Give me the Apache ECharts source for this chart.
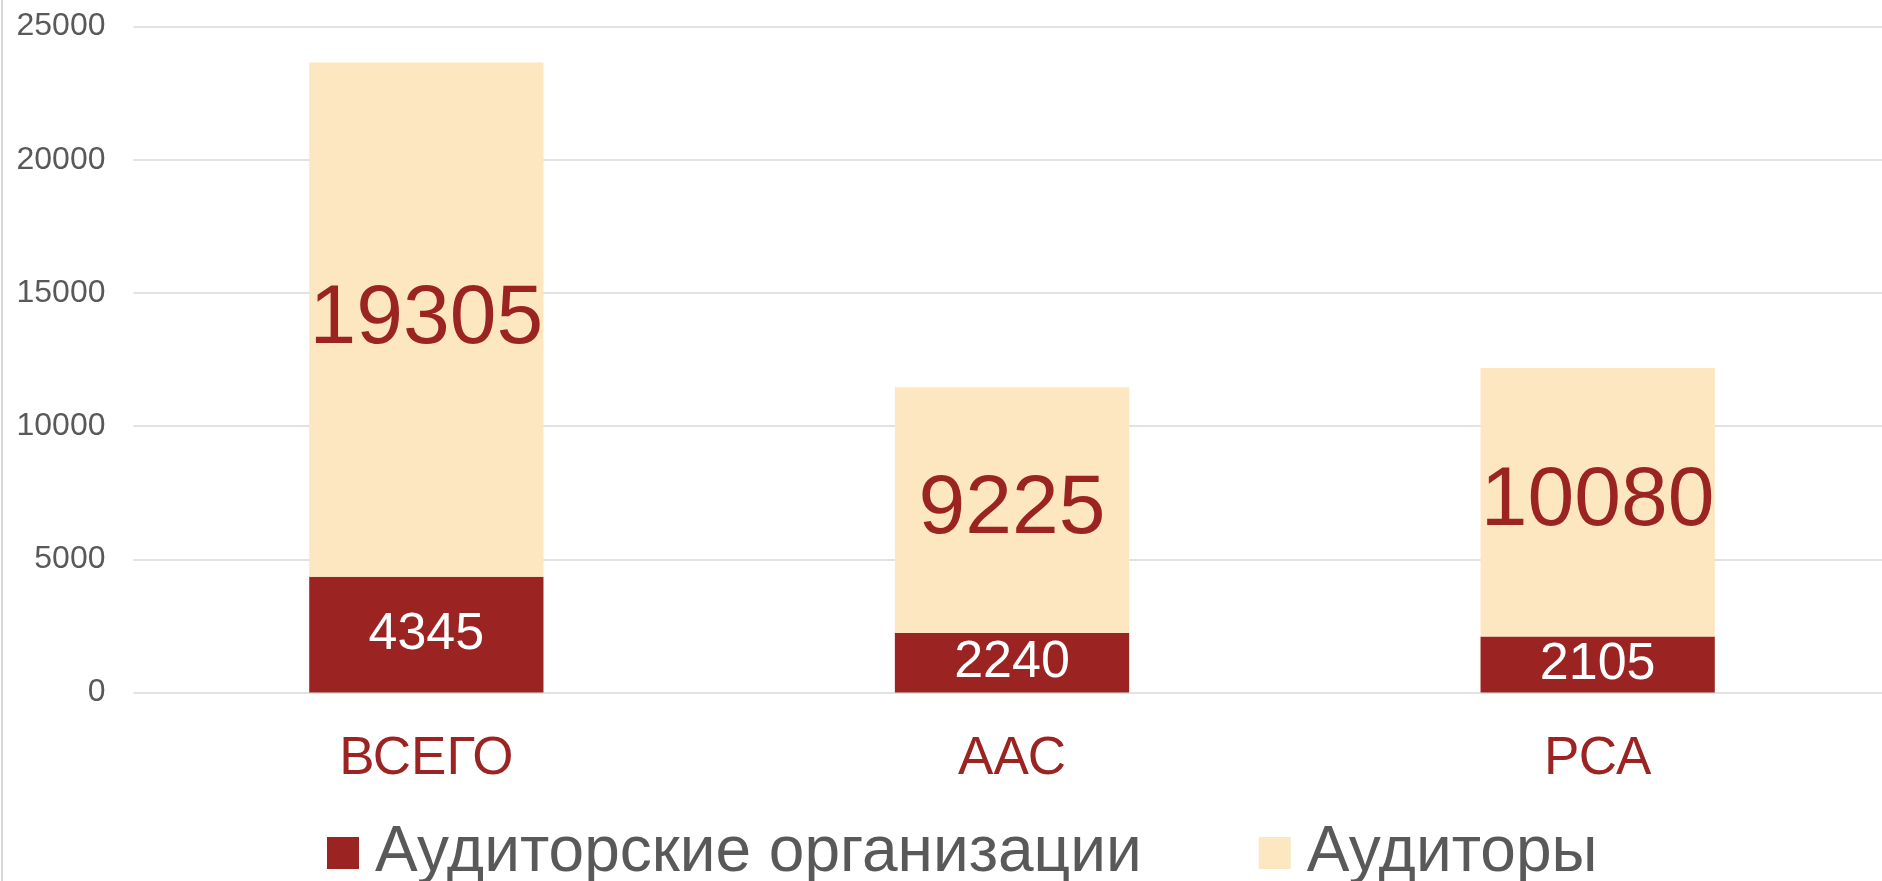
<!DOCTYPE html>
<html>
<head>
<meta charset="utf-8">
<script src="https://cdn.jsdelivr.net/npm/echarts@6/dist/echarts.min.js"></script>
<style>
html,body{margin:0;padding:0;background:#fff;}
#chart{width:1882px;height:881px;}
</style>
</head>
<body>
<div id="chart"></div>
<script>
const categories = ['ВСЕГО', 'ААС', 'РСА'];
const orgValues = [4345, 2240, 2105];
const auditorValues = [19305, 9225, 10080];
const seriesNames = ['Аудиторские организации', 'Аудиторы'];
const yTicks = { min: 0, max: 25000, interval: 5000 };

const DARK = '#9B2423';
const LIGHT = '#FCE7C0';
const FONT = '"Liberation Sans", Arial, sans-serif';

const chart = echarts.init(document.getElementById('chart'));
chart.setOption({
  animation: false,
  backgroundColor: '#ffffff',
  graphic: [{
    type: 'line',
    shape: { x1: 2, y1: 0, x2: 2, y2: 881 },
    style: { stroke: '#d9d9d9', lineWidth: 2 }
  }],
  grid: { left: 133.5, width: 1757, top: 26.5, bottom: 188.4, containLabel: false, outerBoundsMode: 'none' },
  legend: {
    left: 322,
    top: 816,
    itemWidth: 32,
    itemHeight: 32,
    itemGap: 117,
    icon: 'rect',
    textStyle: { fontFamily: FONT, fontSize: 64, color: '#595959', padding: [0, 0, 0, 11] },
    data: seriesNames
  },
  xAxis: {
    type: 'category',
    data: categories,
    axisLine: { show: false },
    axisTick: { show: false },
    axisLabel: { fontFamily: FONT, fontSize: 53, color: DARK, margin: 40 }
  },
  yAxis: {
    type: 'value',
    min: yTicks.min,
    max: yTicks.max,
    interval: yTicks.interval,
    axisLine: { show: false },
    axisTick: { show: false },
    axisLabel: { fontFamily: FONT, fontSize: 32, color: '#595959', margin: 28, formatter: v => String(v) },
    splitLine: { lineStyle: { color: '#d9d9d9', width: 1.5 } }
  },
  series: [
    {
      name: seriesNames[0],
      type: 'bar',
      stack: 'total',
      barWidth: '40%',
      data: orgValues,
      itemStyle: { color: DARK },
      label: { show: true, position: 'inside', fontFamily: FONT, fontSize: 52, color: '#ffffff' }
    },
    {
      name: seriesNames[1],
      type: 'bar',
      stack: 'total',
      barWidth: '40%',
      data: auditorValues,
      itemStyle: { color: LIGHT },
      label: { show: true, position: 'inside', fontFamily: FONT, fontSize: 84, color: DARK }
    }
  ]
});
</script>
</body>
</html>
